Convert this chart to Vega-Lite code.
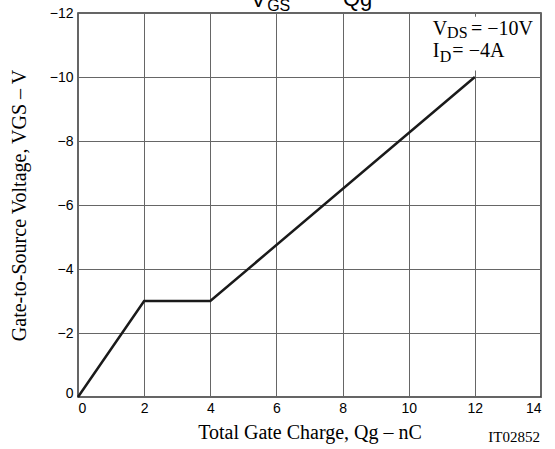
{
  "$schema": "https://vega.github.io/schema/vega-lite/v6.json",
  "autosize": {"type": "none"},
  "width": 463,
  "height": 384,
  "padding": {"left": 78, "top": 13, "right": 14, "bottom": 52},
  "background": "white",
  "config": {
    "view": {"stroke": "#333333", "strokeWidth": 1.5},
    "axis": {
      "grid": true,
      "gridColor": "#666666",
      "gridWidth": 1,
      "gridOpacity": 1,
      "domain": false,
      "ticks": false,
      "labelFont": "Liberation Sans",
      "labelFontSize": 14,
      "labelColor": "#000000",
      "titleFont": "Liberation Serif",
      "titleFontSize": 20,
      "titleFontWeight": "normal",
      "titleColor": "#000000"
    }
  },
  "datasets": {
    "curve": [
      {"x": 0, "y": 0},
      {"x": 2, "y": -3},
      {"x": 4, "y": -3},
      {"x": 12, "y": -10}
    ],
    "box": [
      {"x": 10.2, "x2": 13.85, "y": -10.2, "y2": -11.88}
    ],
    "notes": [
      {"t": "V", "x": 10.73, "y": -11.31, "role": "main"},
      {"t": "DS", "x": 11.16, "y": -11.22, "role": "sub"},
      {"t": "= −10V", "x": 11.88, "y": -11.31, "role": "main"},
      {"t": "I", "x": 10.73, "y": -10.63, "role": "main"},
      {"t": "D", "x": 10.94, "y": -10.47, "role": "sub"},
      {"t": "= −4A", "x": 11.32, "y": -10.63, "role": "main"},
      {"t": "IT02852", "x": 13.97, "y": 1.41, "role": "code"},
      {"t": "V", "x": 5.23, "y": -12.19, "role": "head"},
      {"t": "GS", "x": 5.72, "y": -12.06, "role": "headsub"},
      {"t": "—", "x": 6.95, "y": -12.3, "role": "head"},
      {"t": "Qg", "x": 8.01, "y": -12.22, "role": "head"}
    ]
  },
  "encoding": {
    "x": {
      "field": "x",
      "type": "quantitative",
      "scale": {"domain": [0, 14], "nice": false, "zero": false},
      "axis": {
        "values": [0, 2, 4, 6, 8, 10, 12, 14],
        "labelPadding": 4,
        "title": "Total Gate Charge, Qg  –  nC",
        "titlePadding": 7
      }
    },
    "y": {
      "field": "y",
      "type": "quantitative",
      "scale": {"domain": [0, -12], "nice": false, "zero": false},
      "axis": {
        "values": [0, -2, -4, -6, -8, -10, -12],
        "labelPadding": 5,
        "labelBaseline": {"condition": {"test": "datum.value === 0", "value": "alphabetic"}, "value": "middle"},
        "title": "Gate-to-Source Voltage, VGS  –  V",
        "titlePadding": 20
      }
    }
  },
  "layer": [
    {
      "data": {"name": "box"},
      "mark": {"type": "rect", "fill": "white", "stroke": null},
      "encoding": {
        "x2": {"field": "x2"},
        "y2": {"field": "y2"}
      }
    },
    {
      "data": {"name": "curve"},
      "mark": {"type": "line", "color": "#1a1a1a", "strokeWidth": 2.5}
    },
    {
      "data": {"name": "notes"},
      "transform": [{"filter": "datum.role === 'main'"}],
      "mark": {"type": "text", "font": "Liberation Serif", "fontSize": 20, "align": "left", "baseline": "alphabetic", "color": "#000000"},
      "encoding": {"text": {"field": "t"}}
    },
    {
      "data": {"name": "notes"},
      "transform": [{"filter": "datum.role === 'sub'"}],
      "mark": {"type": "text", "font": "Liberation Serif", "fontSize": 16, "align": "left", "baseline": "alphabetic", "color": "#000000"},
      "encoding": {"text": {"field": "t"}}
    },
    {
      "data": {"name": "notes"},
      "transform": [{"filter": "datum.role === 'code'"}],
      "mark": {"type": "text", "font": "Liberation Serif", "fontSize": 15, "align": "right", "baseline": "alphabetic", "color": "#000000"},
      "encoding": {"text": {"field": "t"}}
    },
    {
      "data": {"name": "notes"},
      "transform": [{"filter": "datum.role === 'head'"}],
      "mark": {"type": "text", "font": "Liberation Sans", "fontSize": 22, "align": "left", "baseline": "alphabetic", "color": "#000000", "clip": false},
      "encoding": {"text": {"field": "t"}}
    },
    {
      "data": {"name": "notes"},
      "transform": [{"filter": "datum.role === 'headsub'"}],
      "mark": {"type": "text", "font": "Liberation Sans", "fontSize": 16, "align": "left", "baseline": "alphabetic", "color": "#000000", "clip": false},
      "encoding": {"text": {"field": "t"}}
    }
  ]
}
